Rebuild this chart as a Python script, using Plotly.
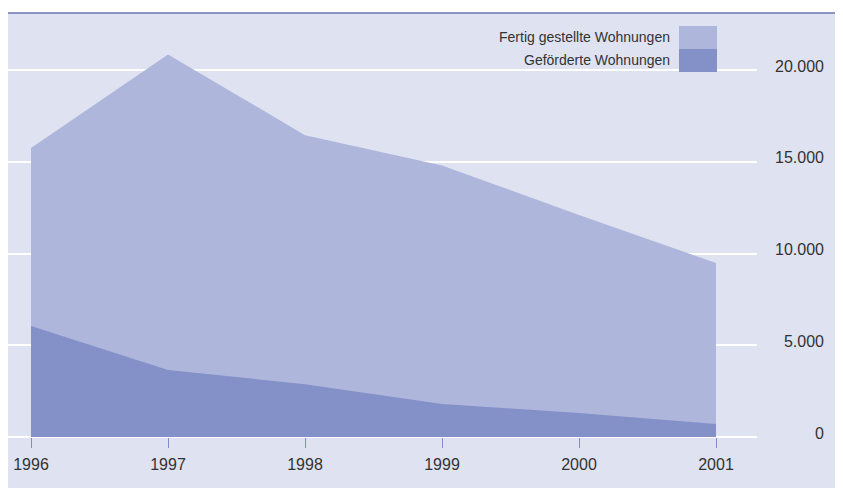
import plotly.graph_objects as go

years = [1996, 1997, 1998, 1999, 2000, 2001]
fertig = [15750, 20850, 16450, 14800, 12100, 9480]
gefoerdert = [6050, 3650, 2880, 1800, 1310, 710]
ytick_vals = [0, 5000, 10000, 15000, 20000]
ytick_text = ["0", "5.000", "10.000", "15.000", "20.000"]
series_names = ["Fertig gestellte Wohnungen", "Geförderte Wohnungen"]

W, H = 835, 480
OFF = 8  # page body margin
BG = "#DFE2F1"
C_LIGHT = "#AFB6DB"
C_DARK = "#8490C8"
TXT = "#333333"

# page pixel -> paper fraction
px_x = lambda p: (p - OFF) / W
px_y = lambda p: 1 - (p - OFF) / H

TOP = 13       # page y of top border line
RIGHT = 757    # page x of plot area right edge
ZERO_Y = 437   # page y of value 0
X_1996 = 31
PX_YEAR = 137
PPK = 18.35    # px per 1000

x0 = 1996 - (X_1996 - OFF) / PX_YEAR
x1 = x0 + (RIGHT - OFF) / PX_YEAR
plot_top_f = TOP - OFF
y0 = -(H - (ZERO_Y - OFF)) / PPK * 1000
y1 = y0 + (H - plot_top_f) / PPK * 1000

fig = go.Figure()
fig.add_trace(go.Scatter(x=years, y=fertig, mode="lines", fill="tozeroy",
                         line=dict(width=0, color=C_LIGHT), fillcolor=C_LIGHT,
                         name=series_names[0], showlegend=False, hoverinfo="skip"))
fig.add_trace(go.Scatter(x=years, y=gefoerdert, mode="lines", fill="tozeroy",
                         line=dict(width=0, color=C_DARK), fillcolor=C_DARK,
                         name=series_names[1], showlegend=False, hoverinfo="skip"))
fig.add_trace(go.Scatter(x=[years[0]], y=[0], yaxis="y2", mode="markers",
                         marker=dict(opacity=0), showlegend=False, hoverinfo="skip"))

fig.update_layout(
    width=W, height=H,
    margin=dict(l=0, r=0, t=0, b=0),
    paper_bgcolor=BG, plot_bgcolor=BG,
    font=dict(family="Liberation Sans, Arial, sans-serif", color=TXT, size=14),
    xaxis=dict(domain=[0, px_x(RIGHT)], range=[x0, x1],
               anchor="free", position=1 - (ZERO_Y - OFF) / H,
               tickvals=years, ticktext=[str(y) for y in years],
               ticks="outside", ticklen=10, tickcolor="#7F8CC6", tickwidth=1,
               ticklabelstandoff=3,
               showgrid=False, zeroline=False, showline=False,
               tickfont=dict(family="Liberation Sans Narrow, Arial Narrow, sans-serif", size=16, color=TXT)),
    yaxis=dict(domain=[0, 1 - plot_top_f / H], range=[y0, y1],
               tickvals=ytick_vals, showticklabels=False,
               showgrid=True, gridcolor="white", gridwidth=1.5,
               zeroline=False, showline=False),
    yaxis2=dict(overlaying="y", range=[y0, y1], anchor="free", side="left",
                position=px_x(824), tickvals=ytick_vals, ticktext=ytick_text,
                ticklabelshift=-4,
                showgrid=False, zeroline=False, showline=False, ticks="",
                tickfont=dict(family="Liberation Sans Narrow, Arial Narrow, sans-serif", size=16, color=TXT)),
    shapes=[
        dict(type="rect", xref="paper", yref="paper", x0=0, x1=1, y0=px_y(TOP), y1=1,
             fillcolor="white", line=dict(width=0), layer="above"),
        dict(type="line", xref="paper", yref="paper", x0=0, x1=1, y0=px_y(TOP), y1=px_y(TOP),
             line=dict(color="#6A74AE", width=1.5), layer="above"),
        dict(type="rect", xref="paper", yref="paper", x0=px_x(679), x1=px_x(717),
             y0=px_y(49), y1=px_y(26), fillcolor=C_LIGHT, line=dict(width=0)),
        dict(type="rect", xref="paper", yref="paper", x0=px_x(679), x1=px_x(717),
             y0=px_y(72), y1=px_y(49), fillcolor=C_DARK, line=dict(width=0)),
    ],
    annotations=[
        dict(text=series_names[0], xref="paper", yref="paper", x=px_x(672), y=px_y(37.5),
             xanchor="right", yanchor="middle", showarrow=False,
             font=dict(family="Liberation Sans, Arial, sans-serif", size=14, color=TXT)),
        dict(text=series_names[1], xref="paper", yref="paper", x=px_x(672), y=px_y(60),
             xanchor="right", yanchor="middle", showarrow=False,
             font=dict(family="Liberation Sans, Arial, sans-serif", size=14, color=TXT)),
    ],
)

fig.write_html("out.html")
